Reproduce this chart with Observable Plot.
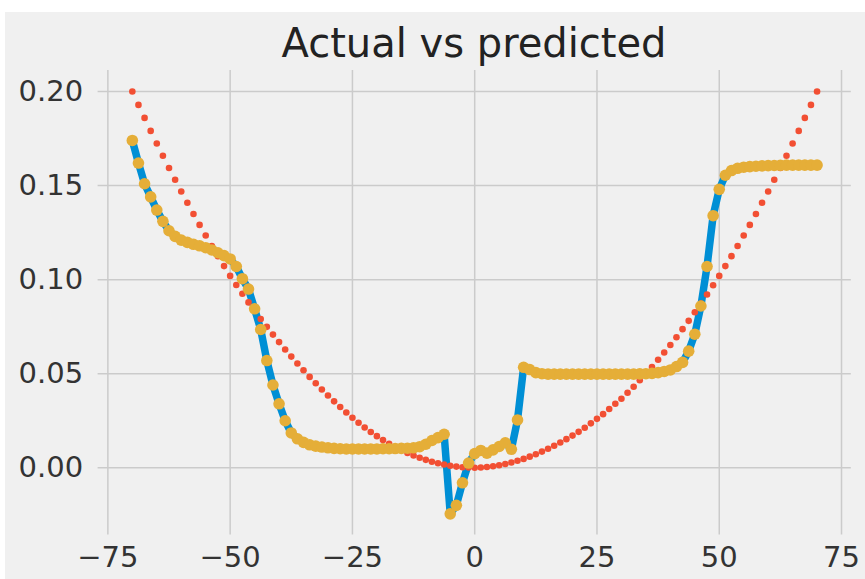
<!DOCTYPE html>
<html>
<head>
<meta charset="utf-8">
<script src="https://cdn.jsdelivr.net/npm/d3@7"></script>
<script src="https://cdn.jsdelivr.net/npm/@observablehq/plot@0.6"></script>
<style>
  html, body { margin: 0; padding: 0; background: #ffffff; }
  #fig { position: absolute; left: 5px; top: 12px; width: 860px; height: 567px; background: #f0f0f0; overflow: hidden; }
  #titlebox { position: relative; height: 56px; }
  #title { position: absolute; left: 169px; width: 600px; top: 11px; text-align: center;
           font-family: "DejaVu Sans", sans-serif; font-size: 40px; line-height: 1; color: #222; white-space: nowrap; }
  #chart svg { display: block; }
</style>
</head>
<body>
<div id="fig">
  <div id="titlebox"><div id="title">Actual vs predicted</div></div>
  <div id="chart"></div>
</div>
<script>
// x positions shared by all series
const xValues = [
  -70, -68.75, -67.5, -66.25, -65, -63.75, -62.5, -61.25,
  -60, -58.75, -57.5, -56.25, -55, -53.75, -52.5, -51.25,
  -50, -48.75, -47.5, -46.25, -45, -43.75, -42.5, -41.25,
  -40, -38.75, -37.5, -36.25, -35, -33.75, -32.5, -31.25,
  -30, -28.75, -27.5, -26.25, -25, -23.75, -22.5, -21.25,
  -20, -18.75, -17.5, -16.25, -15, -13.75, -12.5, -11.25,
  -10, -8.75, -7.5, -6.25, -5, -3.75, -2.5, -1.25,
  0, 1.25, 2.5, 3.75, 5, 6.25, 7.5, 8.75,
  10, 11.25, 12.5, 13.75, 15, 16.25, 17.5, 18.75,
  20, 21.25, 22.5, 23.75, 25, 26.25, 27.5, 28.75,
  30, 31.25, 32.5, 33.75, 35, 36.25, 37.5, 38.75,
  40, 41.25, 42.5, 43.75, 45, 46.25, 47.5, 48.75,
  50, 51.25, 52.5, 53.75, 55, 56.25, 57.5, 58.75,
  60, 61.25, 62.5, 63.75, 65, 66.25, 67.5, 68.75,
  70
];

// blue line / orange dots (same values)
const curveValues = [
  0.174, 0.162, 0.151, 0.144, 0.137, 0.131, 0.126, 0.123,
  0.121, 0.1198, 0.1188, 0.118, 0.117, 0.1158, 0.1143, 0.1128,
  0.111, 0.107, 0.1005, 0.095, 0.0845, 0.0735, 0.057, 0.044,
  0.034, 0.025, 0.0185, 0.0154, 0.0135, 0.0122, 0.0115, 0.011,
  0.0106, 0.0103, 0.0101, 0.0100, 0.0100, 0.0100, 0.0100, 0.0100,
  0.0100, 0.0101, 0.0101, 0.0102, 0.0103, 0.0104, 0.0106, 0.0112,
  0.0125, 0.0145, 0.016, 0.0178, -0.0245, -0.0200, -0.0080, 0.0025,
  0.0075, 0.0092, 0.0078, 0.0095, 0.0113, 0.0133, 0.0098, 0.0254,
  0.0534, 0.0522, 0.0506, 0.0500, 0.0498, 0.0498, 0.0498, 0.0498,
  0.0498, 0.0498, 0.0498, 0.0498, 0.0498, 0.0498, 0.0498, 0.0498,
  0.0498, 0.0498, 0.0498, 0.0499, 0.0500, 0.0502, 0.0506, 0.0512,
  0.052, 0.0538, 0.056, 0.062, 0.071, 0.086, 0.107, 0.134,
  0.148, 0.1555, 0.158, 0.1592, 0.1598, 0.1601, 0.1603, 0.1605,
  0.1606, 0.1607, 0.1608, 0.1609, 0.1609, 0.1609, 0.1609, 0.1609,
  0.1609
];

// red dotted series
const parabolaValues = [
  0.2000, 0.1929, 0.1860, 0.1791, 0.1724, 0.1659, 0.1594, 0.1531,
  0.1469, 0.1409, 0.1349, 0.1291, 0.1235, 0.1179, 0.1125, 0.1072,
  0.1020, 0.0972, 0.0925, 0.0879, 0.0835, 0.0791, 0.0749, 0.0708,
  0.0668, 0.0629, 0.0591, 0.0554, 0.0518, 0.0483, 0.0449, 0.0416,
  0.0384, 0.0353, 0.0323, 0.0294, 0.0266, 0.0239, 0.0214, 0.0190,
  0.0168, 0.0147, 0.0128, 0.0110, 0.0094, 0.0079, 0.0065, 0.0053,
  0.0042, 0.0032, 0.0024, 0.0017, 0.0011, 0.0006, 0.0003, 0.0001,
  0.0000, 0.0001, 0.0004, 0.0008, 0.0013, 0.0020, 0.0028, 0.0037,
  0.0047, 0.0059, 0.0072, 0.0086, 0.0101, 0.0117, 0.0134, 0.0152,
  0.0171, 0.0191, 0.0213, 0.0236, 0.0260, 0.0285, 0.0312, 0.0340,
  0.0367, 0.0399, 0.0431, 0.0465, 0.0500, 0.0536, 0.0574, 0.0613,
  0.0653, 0.0694, 0.0737, 0.0781, 0.0827, 0.0873, 0.0921, 0.0970,
  0.1020, 0.1072, 0.1125, 0.1179, 0.1235, 0.1291, 0.1349, 0.1409,
  0.1469, 0.1531, 0.1594, 0.1659, 0.1724, 0.1791, 0.1860, 0.1929,
  0.2000
];

const xTicks = [-75, -50, -25, 0, 25, 50, 75];
const yTicks = [0, 0.05, 0.10, 0.15, 0.20];

const data = xValues.map((x, i) => ({x, curve: curveValues[i], parabola: parabolaValues[i]}));

const chart = Plot.plot({
  width: 860,
  height: 511,
  marginTop: 2,
  marginLeft: 92.6,
  marginRight: 14.2,
  marginBottom: 44.6,
  style: {background: "transparent", fontFamily: "DejaVu Sans, sans-serif", fontSize: "29px", color: "#333"},
  x: {domain: [-77, 77]},
  y: {domain: [-0.0357, 0.2112]},
  marks: [
    Plot.gridX(xTicks, {stroke: "#cbcbcb", strokeOpacity: 1, strokeWidth: 1.5}),
    Plot.gridY(yTicks, {stroke: "#cbcbcb", strokeOpacity: 1, strokeWidth: 1.5}),
    Plot.axisX(xTicks, {tickSize: 0, tickPadding: 12, label: null, fill: "#333"}),
    Plot.axisY(yTicks, {tickSize: 0, tickPadding: 15, label: null, tickFormat: d3.format(".2f"), fill: "#333"}),
    Plot.line(data, {x: "x", y: "curve", stroke: "#008fd5", strokeWidth: 7.5, strokeLinejoin: "round"}),
    Plot.dot(data, {x: "x", y: "parabola", r: 3.3, fill: "#f24f33", stroke: "none"}),
    Plot.dot(data, {x: "x", y: "curve", r: 5.8, fill: "#e5ae38", stroke: "none"})
  ]
});
document.getElementById("chart").appendChild(chart);
</script>
</body>
</html>
